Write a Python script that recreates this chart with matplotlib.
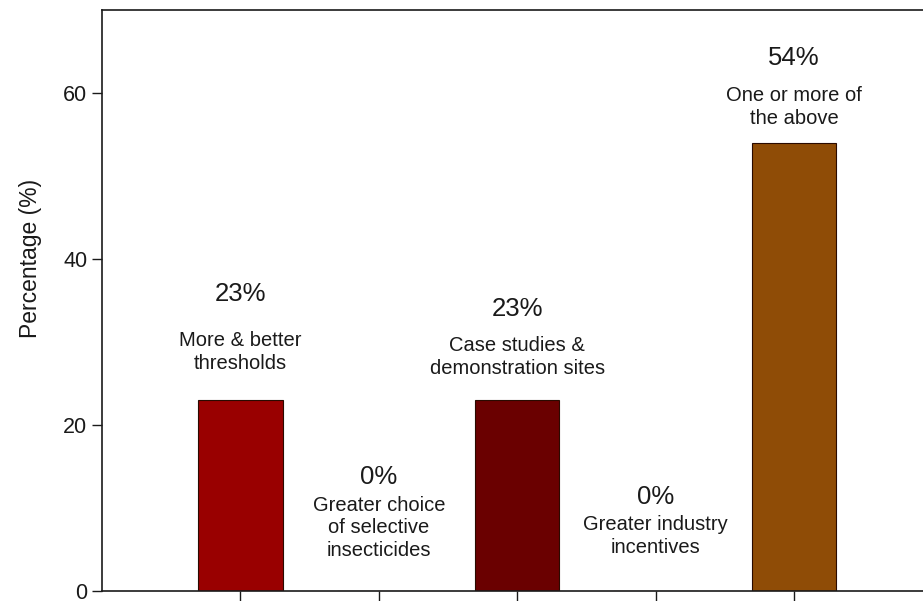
import matplotlib
matplotlib.use("Agg")
import matplotlib.pyplot as plt

plt.rcParams['font.family'] = ['Liberation Sans', 'DejaVu Sans']

categories = ["More & better\nthresholds",
              "Greater choice\nof selective\ninsecticides",
              "Case studies &\ndemonstration sites",
              "Greater industry\nincentives",
              "One or more of\nthe above"]
values = [23, 0, 23, 0, 54]
pct_labels = ["23%", "0%", "23%", "0%", "54%"]
colors = ["#990000", "#990000", "#6a0000", "#6a0000", "#8f4c06"]
pct_y = [35.8, 13.7, 34.0, 11.3, 64.2]
text_y = [28.8, 7.6, 28.2, 6.6, 58.3]
yticks = [0, 20, 40, 60]

fig = plt.figure(figsize=(9.23, 6.01), dpi=100)
ax = fig.add_axes([102/923, 1-591/601, (932.5-102)/923, (591-10)/601])

positions = list(range(1, len(values) + 1))
ax.bar(positions, values, width=0.61, color=colors, edgecolor="#2a0a00", linewidth=0.8)

for x, p, py, t, ty in zip(positions, pct_labels, pct_y, categories, text_y):
    ax.text(x, py, p, ha="center", va="center", fontsize=18.5, color="#1a1a1a")
    ax.text(x, ty, t, ha="center", va="center", fontsize=14.5, color="#1a1a1a", linespacing=1.25)

ax.set_xlim(0, 6)
ax.set_ylim(0, 70)
ax.set_yticks(yticks)
ax.set_xticks(positions)
ax.set_xticklabels([])
ax.tick_params(axis="both", direction="out", length=7, width=1, labelsize=15.5, colors="#1a1a1a")
ax.set_ylabel("Percentage (%)", fontsize=16.5, color="#1a1a1a")
ax.yaxis.set_label_coords(-0.072, 0.573)
for s in ax.spines.values():
    s.set_linewidth(1.2)
    s.set_color("#1a1a1a")

fig.savefig("out.png", dpi=100)
